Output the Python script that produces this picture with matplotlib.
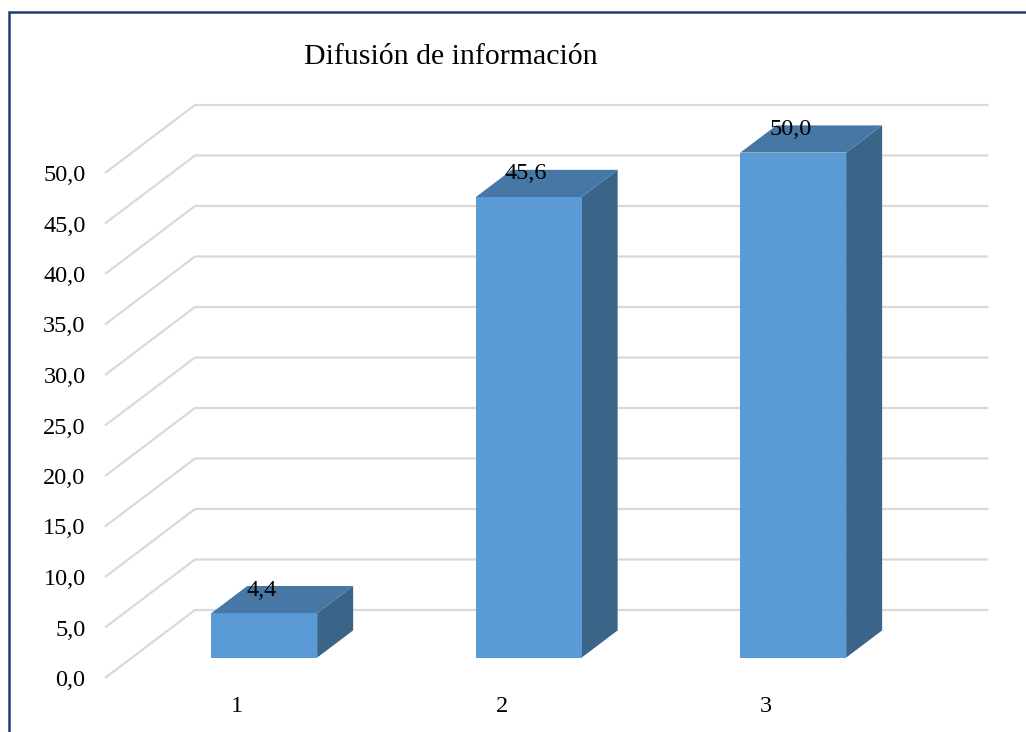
import matplotlib
matplotlib.use("Agg")
import matplotlib.pyplot as plt
from matplotlib.patches import Polygon, Rectangle
from matplotlib.ticker import FuncFormatter

# data
categories = [1, 2, 3]
values = [4.4, 45.6, 50.0]
title = "Difusión de información"
yticks = [0, 5, 10, 15, 20, 25, 30, 35, 40, 45, 50]

plt.rcParams['font.family'] = ['Liberation Serif', 'DejaVu Serif']

fig = plt.figure(figsize=(10.26, 7.32), dpi=100)
# axes = front edge of the floor / front plane of the 3d box
ax = fig.add_axes([105/1026, 54/732, 793.5/1026, 505/732])
ax.set_xlim(0.5, 3.5)
ax.set_ylim(0, 50)

# oblique depth offset (full depth of the box) in data units
DX = 90/264.5
DY = 68/10.1
grid_col = '#d9d9d9'

for v in yticks:
    ax.plot([0.5, 0.5+DX, 3.5+DX], [v, v+DY, v+DY], color=grid_col,
            lw=1.6, clip_on=False, zorder=1, solid_capstyle='butt')

w = 0.4
d0, d1 = 0.3, 0.7
front_col = '#5b9bd5'
top_col = '#4677a5'
side_col = '#3a6488'
for c, v in zip(categories, values):
    xl = c - w/2
    xr = c + w/2
    front = Rectangle((xl+d0*DX, d0*DY), w, v, facecolor=front_col,
                      edgecolor='none', clip_on=False, zorder=3)
    top = Polygon([(xl+d0*DX, v+d0*DY), (xr+d0*DX, v+d0*DY),
                   (xr+d1*DX, v+d1*DY), (xl+d1*DX, v+d1*DY)],
                  closed=True, facecolor=top_col, edgecolor='none',
                  clip_on=False, zorder=3)
    side = Polygon([(xr+d0*DX, d0*DY), (xr+d1*DX, d1*DY),
                    (xr+d1*DX, v+d1*DY), (xr+d0*DX, v+d0*DY)],
                   closed=True, facecolor=side_col, edgecolor='none',
                   clip_on=False, zorder=3)
    ax.add_patch(side)
    ax.add_patch(front)
    ax.add_patch(top)
    ax.text(c+d0*DX-0.01, v+d1*DY-0.4, f"{v:.1f}".replace('.', ','),
            ha='center', va='center', fontsize=17.5, zorder=4)

ax.set_yticks(yticks)
ax.yaxis.set_major_formatter(FuncFormatter(lambda v, p: f"{v:.1f}".replace('.', ',')))
ax.set_xticks(categories)
ax.tick_params(axis='both', length=0, labelsize=17.5)
ax.tick_params(axis='y', pad=14)
ax.tick_params(axis='x', pad=13)
for s in ax.spines.values():
    s.set_visible(False)
ax.patch.set_alpha(0)

fig.text(451/1026, 1-57/732, title, ha='center', va='center', fontsize=21.5)

# outer frame
fig.patches.append(Rectangle((9/1026, -0.1), 1.1, 1-12/732+0.1,
                             transform=fig.transFigure, fill=False,
                             edgecolor='#1f3a78', lw=1.8))

fig.savefig('out.png', dpi=100)
